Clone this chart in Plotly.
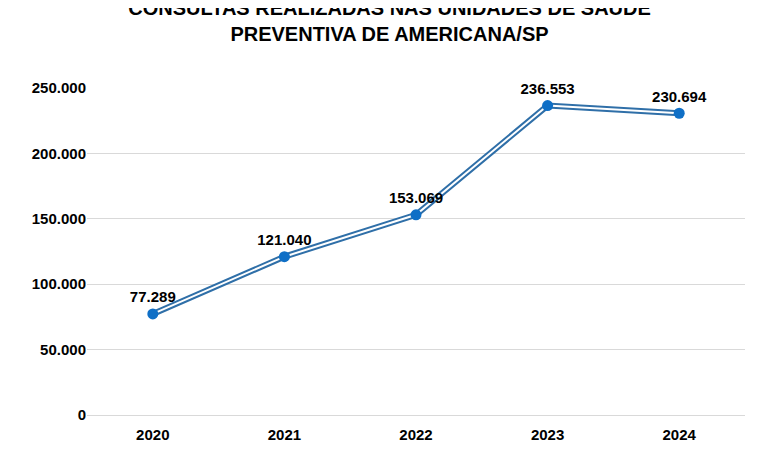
import plotly.graph_objects as go

years = ["2020", "2021", "2022", "2023", "2024"]
consultas = [77289, 121040, 153069, 236553, 230694]
rotulos = ["77.289", "121.040", "153.069", "236.553", "230.694"]
ticks = [0, 50000, 100000, 150000, 200000, 250000]
tick_text = ["0", "50.000", "100.000", "150.000", "200.000", "250.000"]

fig = go.Figure()
# double line effect: thick blue, thin white in the middle
fig.add_trace(go.Scatter(x=years, y=consultas, mode="lines",
                         line=dict(color="#2f6fa8", width=6), hoverinfo="skip"))
fig.add_trace(go.Scatter(x=years, y=consultas, mode="lines+markers+text",
                         line=dict(color="white", width=2),
                         marker=dict(color="#0f6fc6", size=11),
                         text=["<b>%s</b>" % t for t in rotulos],
                         textposition="top center",
                         textfont=dict(size=15, color="black", family="Liberation Sans"),
                         cliponaxis=False))

fig.update_layout(
    width=763, height=467,
    showlegend=False,
    plot_bgcolor="white", paper_bgcolor="white",
    margin=dict(l=79, r=26, t=80, b=60),
    font=dict(family="Liberation Sans", size=15, color="black"),
    title=dict(text="<b>CONSULTAS REALIZADAS NAS UNIDADES DE SAÚDE<br>PREVENTIVA DE AMERICANA/SP</b>",
               x=0.5, xanchor="center", y=0.985, yanchor="top",
               font=dict(size=20, color="black")),
    xaxis=dict(type="category", range=[-0.5, 4.5], showgrid=False,
               showline=True, linecolor="#d9d9d9", ticks="",
               tickprefix="<b>", ticksuffix="</b>",
               tickfont=dict(size=15, color="black", family="Liberation Sans"),
               ticklabelstandoff=6),
    yaxis=dict(range=[0, 250000], tickvals=ticks,
               ticktext=["<b>%s</b>" % t for t in tick_text],
               showgrid=True, gridcolor="#d9d9d9", zeroline=False,
               tickfont=dict(size=15, color="black", family="Liberation Sans")),
)

fig.write_html("out.html")
